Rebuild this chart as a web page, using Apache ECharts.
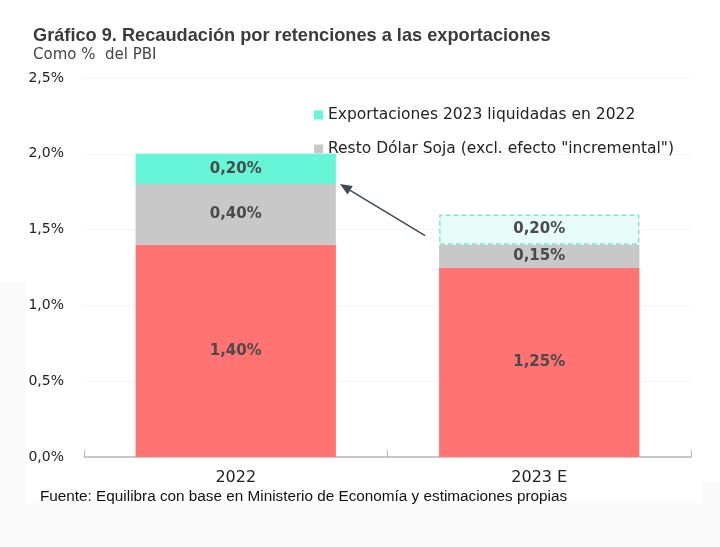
<!DOCTYPE html>
<html><head><meta charset="utf-8">
<script src="https://cdn.jsdelivr.net/npm/echarts@6/dist/echarts.min.js"></script>
<style>html,body{margin:0;padding:0;background:#fff}#c{width:720px;height:547px}</style>
</head><body><div id="c"></div>
<script>
const categories = ['2022', '2023 E'];
const baseValues = [1.40, 1.25];
const restoValues = [0.40, 0.15];
const exportValues = [0.20, 0.20];
const yTicks = [0, 0.5, 1.0, 1.5, 2.0, 2.5];
const seriesNames = ['Retenciones base', 'Resto Dólar Soja (excl. efecto "incremental")', 'Exportaciones 2023 liquidadas en 2022'];

const fmt = v => v.toFixed(2).replace('.', ',') + '%';
const lbl = {show: true, position: 'inside', color: '#4a4a4a', fontWeight: 'bold', fontSize: 15, fontFamily: 'DejaVu Sans',
  formatter: p => fmt(p.value)};

const chart = echarts.init(document.getElementById('c'));
const bgRects = [
  {type: 'rect', silent: true, z: -10, shape: {x: 0, y: 503, width: 720, height: 44}, style: {fill: '#fafafa'}},
  {type: 'rect', silent: true, z: -10, shape: {x: 0, y: 282, width: 26, height: 221}, style: {fill: '#fafafa'}},
  {type: 'rect', silent: true, z: -10, shape: {x: 702, y: 482, width: 18, height: 21}, style: {fill: '#fafafa'}}
];
const option = {
  backgroundColor: '#fff',
  animation: false,
  graphic: bgRects,
  title: [{
    text: 'Gráfico 9. Recaudación por retenciones a las exportaciones',
    left: 28, top: 22,
    textStyle: {fontFamily: 'Liberation Sans', fontSize: 18.2, fontWeight: 'bold', color: '#3b3b3b'}
  }, {
    text: 'Como %  del PBI',
    left: 28, top: 43,
    textStyle: {fontFamily: 'DejaVu Sans', fontSize: 15, fontWeight: 'normal', color: '#444'}
  }, {
    text: 'Fuente: Equilibra con base en Ministerio de Economía y estimaciones propias',
    left: 35, top: 484,
    textStyle: {fontFamily: 'Liberation Sans', fontSize: 15.3, fontWeight: 'normal', color: '#111'}
  }],
  legend: {
    data: [seriesNames[2], seriesNames[1]],
    orient: 'vertical', left: 309, top: 102, itemGap: 18,
    itemWidth: 9, itemHeight: 9, icon: 'rect', itemStyle: {borderWidth: 0},
    textStyle: {fontFamily: 'DejaVu Sans', fontSize: 15.5, color: '#222'}
  },
  grid: {left: 84, right: 29, top: 78, bottom: 90},
  xAxis: {
    type: 'category', data: categories,
    axisLine: {lineStyle: {color: '#b8b8b8', width: 1.5}},
    axisTick: {show: true, inside: true, length: 7, lineStyle: {color: '#b8b8b8'}},
    axisLabel: {fontFamily: 'DejaVu Sans', fontSize: 16, color: '#222', margin: 13}
  },
  yAxis: {
    type: 'value', min: yTicks[0], max: yTicks[yTicks.length - 1], interval: 0.5,
    axisLabel: {fontFamily: 'DejaVu Sans', fontSize: 14, color: '#222', margin: 20,
      formatter: v => v.toFixed(1).replace('.', ',') + '%'},
    splitLine: {lineStyle: {color: '#ececec', type: 'dotted'}}
  },
  series: [{
    name: seriesNames[0], type: 'bar', stack: 's', barWidth: '66%',
    data: baseValues, itemStyle: {color: '#FF7373'}, label: lbl
  }, {
    name: seriesNames[1], type: 'bar', stack: 's',
    data: restoValues, itemStyle: {color: '#C8C8C8'}, label: lbl
  }, {
    name: seriesNames[2], type: 'bar', stack: 's',
    data: exportValues.map((v, i) => i === 0 ? {value: v} :
      {value: v, itemStyle: {color: '#E8FDF8', borderColor: '#7FE6CF', borderWidth: 1.5, borderType: [5, 3]}}),
    itemStyle: {color: '#66F5D7'}, label: lbl
  }]
};
chart.setOption(option);

// arrow from the estimated 2023 box toward the 2022 bar
const bw = chart.getModel().getComponent('xAxis', 0).axis.getBandWidth() * 0.66;
const c0 = chart.convertToPixel({xAxisIndex: 0, yAxisIndex: 0}, [0, baseValues[0] + restoValues[0]]);
const c1 = chart.convertToPixel({xAxisIndex: 0, yAxisIndex: 0}, [1, baseValues[1] + restoValues[1] + 0.06]);
const x1 = c0[0] + bw / 2 + 4, y1 = c0[1];
const x2 = c1[0] - bw / 2 - 14, y2 = c1[1];
const ang = Math.atan2(y1 - y2, x1 - x2);
const hl = 12, hw = 5;
const bx = x1 - hl * Math.cos(ang), by = y1 - hl * Math.sin(ang);
chart.setOption({
  graphic: bgRects.concat([{
    type: 'line', z: 100, shape: {x1: x2, y1: y2, x2: bx, y2: by},
    style: {stroke: '#3f4a55', lineWidth: 1.5}
  }, {
    type: 'polygon', z: 100,
    shape: {points: [[x1, y1],
      [bx + hw * Math.sin(ang), by - hw * Math.cos(ang)],
      [bx - hw * Math.sin(ang), by + hw * Math.cos(ang)]]},
    style: {fill: '#3f4a55'}
  }])
});
</script></body></html>
